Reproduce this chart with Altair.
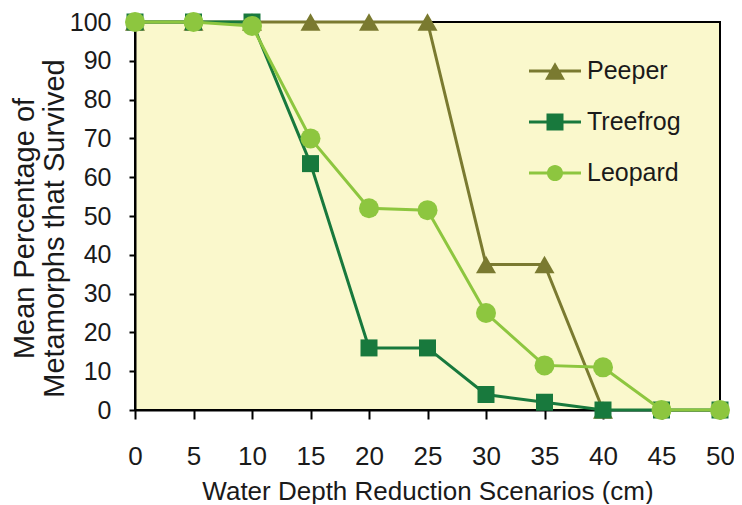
import altair as alt
import pandas as pd

# ---- data ----
depth = [0, 5, 10, 15, 20, 25, 30, 35, 40, 45, 50]
peeper = [100, 100, 100, 100, 100, 100, 37.5, 37.5, 0]
treefrog = [100, 100, 100, 63.5, 16, 16, 4, 2, 0, 0, 0]
leopard = [100, 100, 99, 70, 52, 51.5, 25, 11.5, 11, 0, 0]
species = ["Peeper", "Treefrog", "Leopard"]
colors = ["#7A7A30", "#18793D", "#8DC63F"]
y_ticks = [0, 10, 20, 30, 40, 50, 60, 70, 80, 90, 100]

series = {"Peeper": peeper, "Treefrog": treefrog, "Leopard": leopard}
shapes = {"Peeper": "triangle-up", "Treefrog": "square", "Leopard": "circle"}
sizes = {"Peeper": 400, "Treefrog": 289, "Leopard": 400}

rows = []
for sp in species:
    for d, v in zip(depth, series[sp]):
        rows.append({"species": sp, "depth": d, "value": v})
df = pd.DataFrame(rows)

FONT = "Liberation Sans"
TXT = "#1a1a1a"
W, H = 585, 388

x = alt.X(
    "depth:Q",
    scale=alt.Scale(domain=[0, 50], nice=False, zero=False),
    axis=alt.Axis(
        values=depth, title="Water Depth Reduction Scenarios (cm)", grid=False,
        labelFontSize=26, labelPadding=24, labelColor=TXT, labelFont=FONT, labelFlush=False,
        tickSize=9, tickWidth=2, tickColor="black",
        domainColor="black", domainWidth=2,
        titleFontSize=26, titleFont=FONT, titleFontWeight="normal", titleColor=TXT,
        titleBaseline="alphabetic", titleY=89, titleX=W / 2, titleAnchor="middle",
    ),
)
y = alt.Y(
    "value:Q",
    scale=alt.Scale(domain=[0, 100], nice=False),
    axis=alt.Axis(
        values=y_ticks, title=["Mean Percentage of", "Metamorphs that Survived"], grid=False,
        labelFontSize=25, labelPadding=18, labelColor=TXT, labelFont=FONT, labelFlush=False,
        tickSize=6, tickWidth=2, tickColor="black",
        domainColor="black", domainWidth=2,
        titleFontSize=29, titleFont=FONT, titleFontWeight="normal", titleColor=TXT,
        titleLineHeight=30, titleAngle=270, titleBaseline="alphabetic",
        titleAlign="center", titleX=-102, titleY=206,
    ),
)

layers = []
for sp, col in zip(species, colors):
    sub = df[df.species == sp]
    base = alt.Chart(sub)
    layers.append(base.mark_line(color=col, strokeWidth=3).encode(x=x, y=y))
    layers.append(
        base.mark_point(filled=True, opacity=1, color=col, shape=shapes[sp], size=sizes[sp])
        .encode(x=x, y=y)
    )

# legend symbols: line segment plus marker
leg_paths = [
    "M-1,-0.058H1V0.058H-1Z M0,-0.333L0.385,0.333L-0.385,0.333Z",
    "M-1,-0.058H1V0.058H-1Z M-0.327,-0.327H0.327V0.327H-0.327Z",
    "M-1,-0.058H1V0.058H-1Z M-0.31,0A0.31,0.31 0 1,1 0.31,0A0.31,0.31 0 1,1 -0.31,0Z",
]
leg = alt.Legend(
    title=None, orient="none", legendX=394, legendY=23, padding=0,
    symbolSize=2704, symbolStrokeWidth=0, labelFontSize=25, labelFont=FONT,
    labelColor=TXT, labelOffset=6, rowPadding=12, labelBaseline="middle",
)
legend_layer = (
    alt.Chart(df)
    .transform_filter("datum.depth < 0")
    .mark_point(filled=True, opacity=1)
    .encode(
        x=x, y=y,
        color=alt.Color("species:N", scale=alt.Scale(domain=species, range=colors), legend=leg),
        shape=alt.Shape("species:N", scale=alt.Scale(domain=species, range=leg_paths), legend=leg),
    )
)

chart = (
    alt.layer(*layers, legend_layer)
    .properties(
        width=W, height=H,
        autosize=alt.AutoSizeParams(type="none"),
        padding={"left": 127, "top": 14, "right": 14, "bottom": 94},
        background="white",
    )
    .configure_view(fill="#FAF8CC", stroke="black", strokeWidth=2)
)

chart.save("out.html", embed_options={"renderer": "svg", "actions": False})
